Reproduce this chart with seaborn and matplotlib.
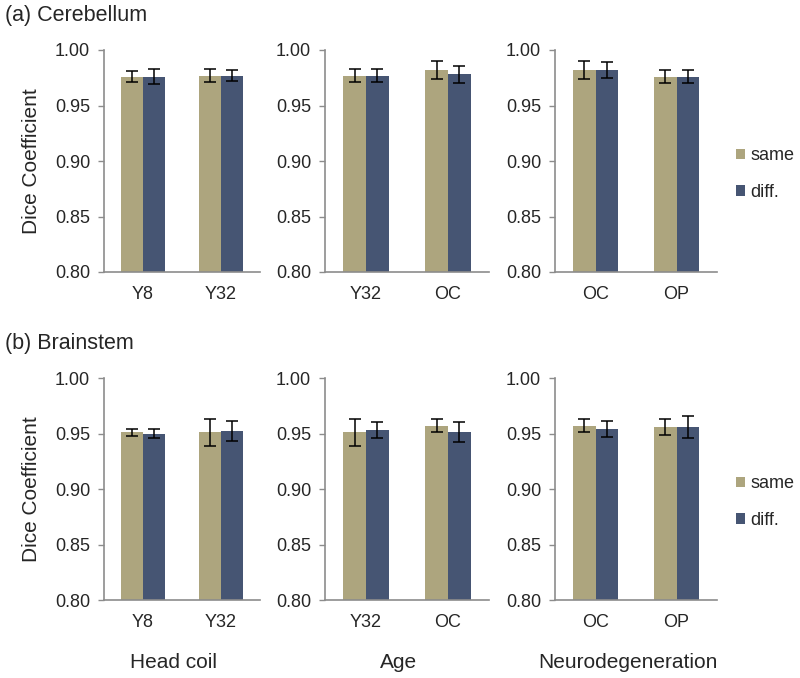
import pandas as pd
import matplotlib
matplotlib.use("Agg")
import matplotlib.pyplot as plt
import seaborn as sns

sns.set_style("white")
plt.rcParams['font.family'] = 'Liberation Sans'

# categories
groups = ["same", "diff."]
panel_names = ["Head coil", "Age", "Neurodegeneration"]
panel_cats = [["Y8", "Y32"], ["Y32", "OC"], ["OC", "OP"]]
row_titles = ["(a) Cerebellum", "(b) Brainstem"]

# cerebellum: mean and error per panel and category
cereb_same = [[0.976, 0.977], [0.977, 0.982], [0.982, 0.976]]
cereb_diff = [[0.976, 0.977], [0.977, 0.978], [0.982, 0.976]]
cereb_same_err = [[0.005, 0.006], [0.006, 0.008], [0.008, 0.006]]
cereb_diff_err = [[0.007, 0.005], [0.006, 0.008], [0.007, 0.006]]

# brainstem
brain_same = [[0.951, 0.951], [0.951, 0.957], [0.957, 0.956]]
brain_diff = [[0.950, 0.952], [0.953, 0.951], [0.954, 0.956]]
brain_same_err = [[0.003, 0.012], [0.012, 0.006], [0.006, 0.007]]
brain_diff_err = [[0.004, 0.009], [0.007, 0.009], [0.007, 0.010]]

colors = {"same": "#ADA57E", "diff.": "#465573"}
axis_gray = "#8C8C8C"

rows = [
    (cereb_same, cereb_diff, cereb_same_err, cereb_diff_err),
    (brain_same, brain_diff, brain_same_err, brain_diff_err),
]

W, H = 800, 678
fig = plt.figure(figsize=(W / 100, H / 100), dpi=100)

# axes boxes in pixels (left, right)
col_px = [(104, 260), (325, 489), (555, 717)]
row_px = [(50, 272), (378, 600)]

for r, (s_vals, d_vals, s_err, d_err) in enumerate(rows):
    top, bottom = row_px[r]
    for j, cats in enumerate(panel_cats):
        left, right = col_px[j]
        ax = fig.add_axes([left / W, 1 - bottom / H, (right - left) / W, (bottom - top) / H])

        df = pd.DataFrame({
            "cat": cats * 2,
            "group": [groups[0]] * 2 + [groups[1]] * 2,
            "value": s_vals[j] + d_vals[j],
            "err": s_err[j] + d_err[j],
        })

        sns.barplot(data=df, x="cat", y="value", hue="group", order=cats,
                    hue_order=groups, palette=colors, saturation=1, width=0.56,
                    errorbar=None, linewidth=0, ax=ax, legend=(j == 2))

        # error bars on top of each seaborn bar
        for g, cont in zip(groups, ax.containers):
            sub = df[df["group"] == g].set_index("cat").loc[cats]
            xs = [b.get_x() + b.get_width() / 2 for b in cont]
            ax.errorbar(xs, sub["value"], yerr=sub["err"], fmt="none",
                        ecolor="black", elinewidth=1.1, capsize=4.5,
                        capthick=1.1, zorder=5)

        ax.set_ylim(0.80, 1.00)
        ax.set_yticks([0.80, 0.85, 0.90, 0.95, 1.00])
        ax.set_yticklabels([f"{v:.2f}" for v in [0.80, 0.85, 0.90, 0.95, 1.00]])
        ax.set_xlim(-0.5, 1.5)
        ax.set_xticks([-0.5, 0.5, 1.5], labels=[])
        ax.set_xticks([0, 1], labels=cats, minor=True)
        ax.tick_params(axis="x", which="major", length=5, width=1, color=axis_gray, direction="out")
        ax.tick_params(axis="x", which="minor", length=0, pad=10, labelsize=13)
        ax.tick_params(axis="y", length=4, width=1, color=axis_gray, direction="out",
                       left=True, labelsize=13, pad=6)
        ax.set_xlabel("")
        ax.set_ylabel("")
        for sp in ["top", "right"]:
            ax.spines[sp].set_visible(False)
        for sp in ["left", "bottom"]:
            ax.spines[sp].set_color(axis_gray)
            ax.spines[sp].set_linewidth(1.2)

        if j == 0:
            ax.set_ylabel("Dice Coefficient", fontsize=15, labelpad=10)
        if j == 2:
            sns.move_legend(ax, "center left", bbox_to_anchor=(1.07, 0.44),
                            frameon=False, title=None, fontsize=13,
                            handlelength=0.55, handleheight=0.55,
                            handletextpad=0.25, labelspacing=1.1, borderaxespad=0)
        if r == 1:
            fig.text((left + right) / 2 / W - 0.01, 1 - 663 / H, panel_names[j],
                     ha="center", va="center", fontsize=15)

    fig.text(5 / W, 1 - (top - 35) / H, row_titles[r], ha="left", va="center", fontsize=15.5)

fig.savefig("out.png", dpi=100, facecolor="white")
